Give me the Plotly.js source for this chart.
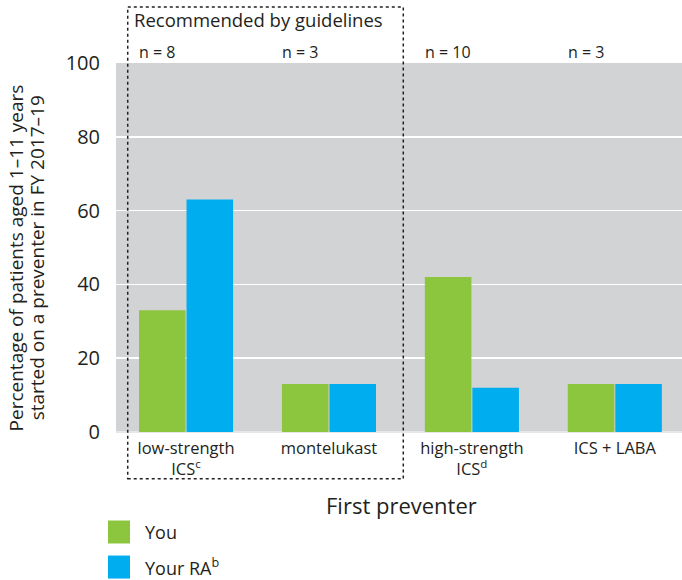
<!DOCTYPE html>
<html>
<head>
<meta charset="utf-8">
<script src="https://cdn.plot.ly/plotly-3.0.1.min.js"></script>
<style>html,body{margin:0;padding:0;background:#fff;}#chart{width:682px;height:580px;}</style>
</head>
<body>
<div id="chart"></div>
<script>
const categories = ["low-strength<br>ICS<sup>c</sup>", "montelukast", "high-strength<br>ICS<sup>d</sup>", "ICS + LABA"];
const nLabels = ["n = 8", "n = 3", "n = 10", "n = 3"];
const youValues = [33, 13, 42, 13];
const raValues = [63, 13, 12, 13];
const seriesNames = ["You", "Your RA<sup>b</sup>"];
const seriesColors = ["#8cc63f", "#00aeef"];
const yTicks = [0, 20, 40, 60, 80, 100];
const yTitleLines = ["Percentage of patients aged 1–11 years", "started on a preventer in FY 2017–19"];

const FONT = "Open Sans, sans-serif";
const TXT = "#231f20";
const xIdx = categories.map((c, i) => i);

const traces = [
  {type: "bar", x: xIdx, y: youValues, name: seriesNames[0], marker: {color: seriesColors[0]}, showlegend: false, hoverinfo: "skip"},
  {type: "bar", x: xIdx, y: raValues, name: seriesNames[1], marker: {color: seriesColors[1]}, showlegend: false, hoverinfo: "skip"}
];

const annotations = [];
nLabels.forEach((t, i) => {
  annotations.push({text: t, x: i - 0.34, xref: "x", xanchor: "left", y: 1.03, yref: "paper", yanchor: "middle", showarrow: false, font: {size: 16, color: TXT, family: FONT}});
});
annotations.push({text: "Recommended by guidelines", x: -0.375, xref: "x", xanchor: "left", y: 1.117, yref: "paper", yanchor: "middle", showarrow: false, font: {size: 18.5, color: TXT, family: FONT}});
annotations.push({text: "First preventer", x: 0.504, xref: "paper", xanchor: "center", y: -0.198, yref: "paper", yanchor: "middle", showarrow: false, font: {size: 22, color: TXT, family: FONT}});
const yTitleX = [-0.175, -0.138];
yTitleLines.forEach((t, i) => {
  annotations.push({text: t, textangle: -90, x: yTitleX[i], xref: "paper", xanchor: "center", y: 0.473, yref: "paper", yanchor: "middle", showarrow: false, font: {size: 19, color: TXT, family: FONT}});
});

const shapes = [
  {type: "rect", xref: "x", yref: "paper", x0: -0.408, x1: 1.52, y0: -0.127, y1: 1.152, line: {color: TXT, width: 1.5, dash: "dot"}, fillcolor: "rgba(0,0,0,0)", layer: "above"}
];
const legendY = [-0.271, -0.366];
seriesNames.forEach((n, i) => {
  shapes.push({type: "rect", xref: "paper", yref: "paper", xsizemode: "pixel", ysizemode: "pixel", xanchor: -0.0141, yanchor: legendY[i], x0: 0, x1: 22, y0: -11.5, y1: 11.5, fillcolor: seriesColors[i], line: {width: 0}});
  annotations.push({text: n, x: 0.0477, xref: "paper", xanchor: "left", y: legendY[i], yref: "paper", yanchor: "middle", showarrow: false, font: {size: 18, color: TXT, family: FONT}});
});

const layout = {
  width: 682, height: 580,
  margin: {l: 116, r: 0, t: 63, b: 148},
  paper_bgcolor: "#ffffff",
  plot_bgcolor: "#d1d3d4",
  barmode: "group",
  bargap: 0.335,
  bargroupgap: 0.02,
  font: {family: FONT, color: TXT},
  showlegend: false,
  xaxis: {
    type: "linear",
    range: [-0.49, 3.47],
    tickmode: "array", tickvals: xIdx, ticktext: categories,
    tickfont: {size: 16.5, family: FONT, color: TXT},
    ticks: "outside", ticklen: 1, tickcolor: "rgba(0,0,0,0)",
    showgrid: false, zeroline: false, showline: false, fixedrange: true
  },
  yaxis: {
    range: [0, 100],
    tickmode: "array", tickvals: yTicks,
    tickfont: {size: 20, family: FONT, color: TXT},
    ticks: "outside", ticklen: 11, tickcolor: "rgba(0,0,0,0)",
    showgrid: true, gridcolor: "#ffffff", gridwidth: 1.5,
    zeroline: true, zerolinecolor: "#e6e7e8", zerolinewidth: 2,
    showline: false,
    automargin: false
  },
  shapes: shapes,
  annotations: annotations
};

Plotly.newPlot("chart", traces, layout, {staticPlot: true, displayModeBar: false});
</script>
</body>
</html>
